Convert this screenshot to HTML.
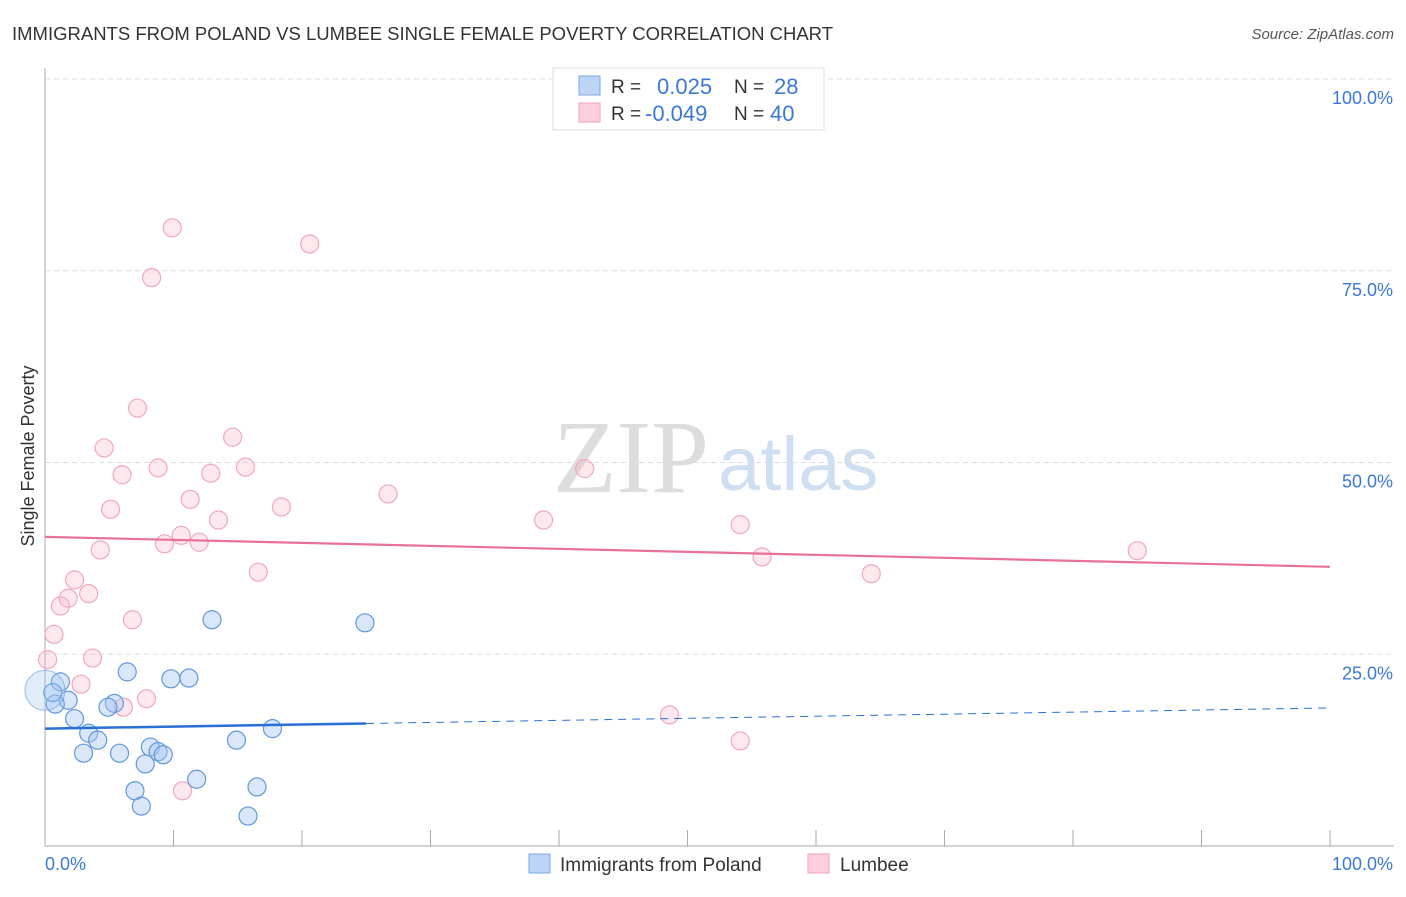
<!DOCTYPE html>
<html><head><meta charset="utf-8"><style>
body{margin:0;background:#fff;font-family:"Liberation Sans",sans-serif;}
svg text{font-family:"Liberation Sans",sans-serif;}
</style></head><body>
<svg id="chart" width="1406" height="892" xmlns="http://www.w3.org/2000/svg">
<text x="12" y="40" font-size="18.5" fill="#333">IMMIGRANTS FROM POLAND VS LUMBEE SINGLE FEMALE POVERTY CORRELATION CHART</text>
<text x="1394" y="39" font-size="15" fill="#555" font-style="italic" text-anchor="end">Source: ZipAtlas.com</text>
<text x="34" y="456" font-size="18" fill="#333" text-anchor="middle" transform="rotate(-90 34 456)">Single Female Poverty</text>
<text x="553" y="492" font-size="104" fill="#ddd" style="font-family:'Liberation Serif',serif">ZIP</text>
<text x="718" y="490" font-size="76" fill="#cfdff2">atlas</text>
<g id="grid"></g><g id="marks"></g>
<g>
<rect x="553" y="68" width="271" height="62" fill="#fff" stroke="#ddd"/>
<rect x="579" y="76" width="21" height="19" fill="#bcd5f5" stroke="#7aa8e6"/>
<rect x="579" y="103" width="21" height="19" fill="#fbd0dc" stroke="#f0a0b8"/>
<text x="611" y="93" font-size="19" fill="#333">R =</text><text x="657" y="94" font-size="22" fill="#3b78d8">0.025</text>
<text x="734" y="93" font-size="19" fill="#333">N =</text><text x="774" y="94" font-size="22" fill="#3b78d8">28</text>
<text x="611" y="120" font-size="19" fill="#333">R =</text><text x="645" y="121" font-size="22" fill="#3b78d8">-0.049</text>
<text x="734" y="120" font-size="19" fill="#333">N =</text><text x="770" y="121" font-size="22" fill="#3b78d8">40</text>
</g>
<g>
<rect x="529" y="854" width="21" height="19" fill="#bcd5f5" stroke="#7aa8e6"/>
<text x="560" y="871" font-size="19" fill="#333">Immigrants from Poland</text>
<rect x="808" y="854" width="21" height="19" fill="#fbd0dc" stroke="#f0a0b8"/>
<text x="840" y="871" font-size="19" fill="#333">Lumbee</text>
</g>
<text x="45" y="870" font-size="18" fill="#3b78d8">0.0%</text>
<text x="1393" y="870" font-size="18" fill="#3b78d8" text-anchor="end">100.0%</text>
</svg>
<script>
const yTicks=[100,75,50,25];
const yTickLabels=["100.0%","75.0%","50.0%","25.0%"];
const xTicks=[0,10,20,30,40,50,60,70,80,90,100];
const polandX=[13.0,24.9,6.4,9.8,11.2,1.2,1.8,0.8,5.4,4.9,2.3,3.4,4.1,3.0,5.8,8.2,8.8,9.2,7.8,14.9,17.7,11.8,7.0,7.5,16.5,15.8,0.6,0.0];
const polandY=[29.5,29.1,22.7,21.8,21.9,21.4,19.0,18.5,18.6,18.1,16.6,14.7,13.8,12.1,12.1,12.9,12.3,11.9,10.7,13.8,15.3,8.7,7.2,5.2,7.7,3.9,20.0,20.3];
const lumbeeX=[9.9,20.6,8.3,7.2,4.6,14.6,8.8,15.6,12.9,6.0,42.0,26.7,11.3,5.1,18.4,13.5,38.8,54.1,10.6,9.3,12.0,4.3,85.0,55.8,16.6,64.3,2.3,3.4,1.8,1.2,6.8,0.7,3.7,0.2,2.8,7.9,6.1,48.6,54.1,10.7];
const lumbeeY=[80.6,78.5,74.1,57.1,51.9,53.3,49.3,49.4,48.6,48.4,49.2,45.9,45.2,43.9,44.2,42.5,42.5,41.9,40.5,39.4,39.6,38.6,38.5,37.7,35.7,35.5,34.7,32.9,32.3,31.3,29.5,27.6,24.5,24.3,21.1,19.2,18.1,17.1,13.7,7.2];
const polandTrend=[15.3,18.0];
const lumbeeTrend=[40.3,36.4];
const polandSolidEnd=25;
const NS="http://www.w3.org/2000/svg";
const X0=45,X1=1330,Y0=846,Y1=79;
const sx=v=>X0+(X1-X0)*v/100, sy=v=>Y0-(Y0-Y1)*v/100;
function mk(t,a,p){const e=document.createElementNS(NS,t);for(const k in a)e.setAttribute(k,a[k]);p.appendChild(e);return e;}
const grid=document.getElementById('grid'),marks=document.getElementById('marks');
yTicks.forEach((t,i)=>{
 const l=mk('line',{x1:X0,x2:1394,y1:sy(t),y2:sy(t),stroke:'#ddd','stroke-dasharray':'5,4'},grid);
 
 
 const tx=mk('text',{x:1393,y:sy(t)+25,'font-size':18,fill:'#3b78d8','text-anchor':'end'},grid);
 tx.textContent=yTickLabels[i];
 
 
});
const ya=mk('line',{x1:X0,x2:X0,y1:68,y2:Y0,stroke:'#aaa'},grid);


const xa=mk('line',{x1:X0,x2:1394,y1:Y0,y2:Y0,stroke:'#aaa'},grid);


xTicks.forEach(t=>{
 const l=mk('line',{x1:sx(t),x2:sx(t),y1:Y0-16,y2:Y0,stroke:'#aaa'},grid);
 
 
});
function pts(xs,ys,fill,stroke,name){xs.forEach((x,i)=>{
 const big=(name==='poland-point'&&i===xs.length-1);
 const c=mk('circle',{cx:sx(x),cy:sy(ys[i]),r:big?20:9,fill:big?'rgba(160,196,240,0.3)':fill,stroke:big?'rgba(90,146,220,0.5)':stroke,'stroke-width':1.2},marks);
 
 
});}
pts(lumbeeX,lumbeeY,'rgba(248,180,200,0.3)','#f0a8bd','lumbee-point');
pts(polandX,polandY,'rgba(160,196,240,0.4)','#6098dc','poland-point');
const lt=mk('line',{x1:sx(0),x2:sx(100),y1:sy(lumbeeTrend[0]),y2:sy(lumbeeTrend[1]),stroke:'#e8709a','stroke-width':2.2},marks);


const pm=polandTrend[0]+(polandTrend[1]-polandTrend[0])*polandSolidEnd/100;
const ps=mk('line',{x1:sx(0),x2:sx(polandSolidEnd),y1:sy(polandTrend[0]),y2:sy(pm),stroke:'#2a6fd6','stroke-width':2.5},marks);


const pd=mk('line',{x1:sx(polandSolidEnd),x2:sx(100),y1:sy(pm),y2:sy(polandTrend[1]),stroke:'#2a6fd6','stroke-width':1,'stroke-dasharray':'8,6'},marks);


</script>
</body></html>
